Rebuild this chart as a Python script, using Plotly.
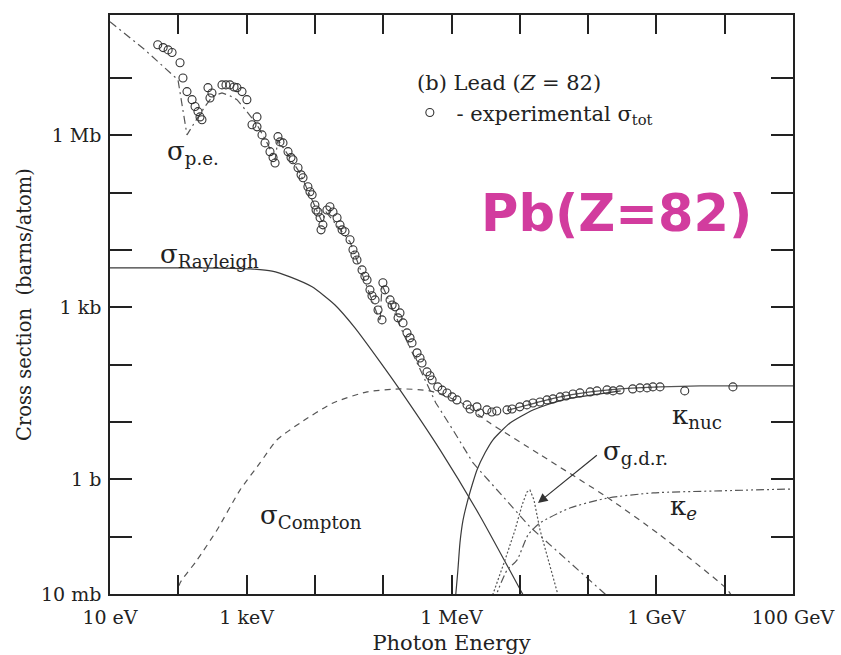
import plotly.graph_objects as go

# ---------------- data (energy in eV, cross section in barns/atom) ----------------
exp_E = [50, 60, 71, 81, 106, 117, 134, 159, 176, 194, 208, 222, 272, 291, 311,
         436, 499, 571, 655, 723, 857, 1.01e3, 1.42e3, 1.2e3, 1.42e3, 1.68e3, 1.86e3,
         2.2e3, 2.44e3, 2.61e3,
         2.88e3, 3.08e3, 3.41e3, 4.04e3, 4.47e3, 4.78e3, 5.66e3, 6.27e3, 6.7e3, 7.9e3,
         8.47e3, 9.1e3, 1.0e4, 1.04e4, 1.11e4, 1.19e4, 1.31e4, 1.23e4,
         1.5e4, 1.66e4, 1.84e4, 2.11e4, 2.33e4, 2.5e4, 2.76e4, 3.27e4, 3.61e4, 3.86e4,
         4.13e4, 4.9e4, 5.4e4, 5.8e4, 6.4e4, 6.85e4, 7.6e4, 8.4e4, 9.6e4,
         9.9e4, 1.06e5, 1.26e5, 1.35e5, 1.49e5, 1.65e5, 1.76e5, 1.95e5, 2.23e5, 2.47e5,
         2.64e5, 3.13e5, 3.46e5, 3.7e5, 4.38e5, 4.84e5, 5.2e5, 6.3e5, 7.3e5, 8.6e5,
         1.02e6, 1.2e6, 1.69e6, 1.87e6, 2.36e6, 2.6e6, 3.3e6, 3.9e6, 4.6e6, 6.5e6,
         7.7e6, 1.0e7, 1.27e7, 1.56e7, 1.98e7, 2.5e7, 3.06e7, 3.9e7, 4.75e7, 6.0e7,
         7.6e7, 1.07e8, 1.35e8, 1.89e8, 2.32e8, 2.93e8, 4.5e8, 5.75e8, 7.3e8, 8.9e8,
         1.13e9, 2.6e9, 1.32e10]
exp_S = [3.8e7, 3.4e7, 3.1e7, 2.8e7, 1.85e7, 1.0e7, 5.8e6, 4.2e6, 3.2e6, 2.6e6, 2.1e6,
         1.87e6, 6.8e6, 4.5e6, 5.5e6,
         7.6e6, 7.6e6, 7.6e6, 7.0e6, 6.8e6, 5.8e6, 4.2e6, 2.1e6, 1.53e6, 1.41e6, 1.02e6,
         7.4e5, 5.2e5, 4.1e5, 3.3e5,
         9.5e5, 7.7e5, 7.4e5, 5.2e5, 4.1e5, 3.75e5, 2.72e5, 2.05e5, 1.82e5, 1.27e5,
         1.04e5, 9.2e4, 6.1e4, 5.0e4, 4.6e4, 3.65e4, 2.75e4, 2.25e4,
         5.0e4, 5.7e4, 4.6e4, 3.65e4, 2.75e4, 2.25e4, 2.08e4, 1.51e4, 1.01e4, 8.2e3,
         6.7e3, 4.5e3, 3.5e3, 3.0e3, 2.02e3, 1.59e3, 1.35e3, 900, 605,
         2.68e3, 2.02e3, 1.35e3, 1.1e3, 1.02e3, 656, 800, 536, 359, 294,
         240, 161, 131, 107, 75, 64, 54, 41, 36, 32,
         27.4, 24.3, 19.9, 16.9, 18.4, 14.4, 16.3, 15.0, 15.6, 16.3,
         16.9, 18.4, 19.9, 21.5, 22.4, 24.3, 25.3, 27.4, 28.5, 30.9,
         32.2, 33.5, 34.9, 36.3, 34.9, 36.3, 37.8, 39.4, 39.4, 41,
         41, 34.9, 41]

pe_E = [10, 32.5, 99, 110, 121, 134, 176, 246, 322, 436, 571, 723, 1.01e3, 1.42e3,
        2.06e3, 2.61e3, 2.88e3, 6.05e3, 1.27e4, 1.46e4, 3.27e4, 9.0e4, 9.6e4, 2.08e5,
        5.9e5, 1.05e6, 2.07e6, 1.41e7, 1.77e8, 2.0e8]
pe_S = [9.6e7, 3.1e7, 9.3e6, 4.2e6, 1.87e6, 1.02e6, 1.73e6, 3.2e6, 4.9e6, 5.5e6, 4.9e6,
        4.2e6, 2.6e6, 1.53e6, 6.9e5, 3.75e5, 8.4e5, 2.2e5, 3.1e4, 4.6e4, 1.39e4, 560,
        2.47e3, 305, 21.5, 7.3, 1.93, 0.148, 0.01, 0.0079]

ray_E = [10, 208, 1.12e3, 2.36e3, 4.32e3, 9.1e3, 1.97e4, 3.86e4, 9.0e4, 1.76e5,
         6.8e5, 2.61e6, 1.08e7, 1.32e7]
ray_S = [4.9e3, 4.9e3, 4.7e3, 4.3e3, 3.4e3, 2.28e3, 1.1e3, 439, 112, 36.3,
         3.26, 0.23, 0.0104, 0.0067]

comp_E = [96, 106, 188, 369, 800, 1.57e3, 2.79e3, 6.05e3, 1.84e4, 5.8e4, 1.76e5,
          4.8e5, 1.33e6, 3.66e6, 1.98e7, 1.89e8, 1.13e9, 1.04e10, 1.25e10]
comp_S = [0.0089, 0.0155, 0.039, 0.131, 0.65, 1.93, 4.9, 9.6, 21.5, 33.5, 37.8,
          34.9, 22.4, 9.6, 2.7, 0.49, 0.107, 0.0127, 0.0095]

knuc_E = [1.1e6, 1.16e6, 1.24e6, 1.33e6, 1.47e6, 1.69e6, 2.0e6, 2.36e6, 3.1e6,
          4.05e6, 7.2e6, 1.56e7, 4.3e7, 1.18e8, 3.0e8]
knuc_S = [0.005, 0.0104, 0.026, 0.078, 0.19, 0.39, 0.79, 1.46, 2.9,
          4.9, 9.6, 16.2, 24.4, 29.7, 35.0]

tot_E = [6.5e6, 1.56e7, 3.9e7, 1.07e8, 2.93e8, 1.13e9, 4.35e9, 1e11]
tot_S = [16.0, 21.0, 27.4, 33.5, 37.8, 41.0, 42.7, 42.7]

gdr_E = [3.8e6, 4.05e6, 6.07e6, 8.5e6, 1.08e7, 1.27e7, 1.41e7, 1.61e7, 1.98e7,
         2.59e7, 3.6e7, 3.9e7]
gdr_S = [0.007, 0.01, 0.039, 0.13, 0.357, 0.60, 0.65, 0.44, 0.13,
         0.039, 0.01, 0.007]

ke_E = [4.4e6, 4.6e6, 6.5e6, 9.1e6, 1.32e7, 1.98e7, 5.4e7, 1.89e8, 8.9e8, 8.5e9, 1e11]
ke_S = [0.007, 0.01, 0.026, 0.039, 0.107, 0.174, 0.316, 0.47, 0.58, 0.63, 0.68]

x_tick_vals = [1e1, 1e3, 1e6, 1e9, 1e11]
x_tick_text = ["10 eV", "1 keV", "1 MeV", "1 GeV", "100 GeV"]
x_minor_vals = [1e2, 1e4, 1e5, 1e7, 1e8, 1e10]
y_tick_vals = [1e-2, 1e0, 1e3, 1e6]
y_tick_text = ["10 mb", "1 b", "1 kb", "1 Mb"]
y_minor_vals = [1e-1, 1e1, 1e2, 1e4, 1e5, 1e7]

# ---------------- styling ----------------
SERIF = "DejaVu Serif"
INK = "#222222"
LINE = "#3a3a3a"

fig = go.Figure()

def curve(E, S, dash, width=1.2, color=LINE, shape="spline"):
    fig.add_trace(go.Scatter(x=E, y=S, mode="lines", showlegend=False,
                             line=dict(color=color, width=width, dash=dash,
                                       shape=shape, smoothing=0.6),
                             hoverinfo="skip"))

curve(ray_E, ray_S, "solid")
curve(comp_E, comp_S, "6px,5px", color="#555555")
curve(pe_E, pe_S, "8px,4px,2px,4px", color="#555555", shape="linear")
curve(gdr_E, gdr_S, "2px,2px", color="#555555", shape="linear")
curve(ke_E, ke_S, "8px,3px,2px,3px,2px,3px", color="#555555")
curve(knuc_E, knuc_S, "solid")
curve(tot_E, tot_S, "solid", color="#555555")

fig.add_trace(go.Scatter(
    x=exp_E, y=exp_S, mode="markers",
    name="\u00a0- experimental σ<sub>tot</sub>",
    marker=dict(symbol="circle-open", size=8, color="#333333", line=dict(width=1.1)),
    showlegend=True, hoverinfo="skip"))

def lab(text, lx, ly, size=26):
    fig.add_annotation(x=lx, y=ly, xref="x", yref="y", text=text, showarrow=False,
                       font=dict(family=SERIF, size=size, color=INK),
                       xanchor="center", yanchor="middle")

lab("σ<sub>p.e.</sub>", 2.215, 5.70)
lab("σ<sub>Rayleigh</sub>", 2.464, 3.90)
lab("σ<sub>Compton</sub>", 3.943, -0.65)
lab("κ<sub>nuc</sub>", 9.594, 1.10)
lab("σ<sub>g.d.r.</sub>", 8.70, 0.47)
lab("κ<sub><i>e</i></sub>", 9.404, -0.49)

# arrow to g.d.r. peak
fig.add_annotation(x=7.266, y=-0.412, xref="x", yref="y",
                   ax=8.15, ay=0.44, axref="x", ayref="y",
                   text="", showarrow=True, arrowhead=2, arrowsize=1.6,
                   arrowwidth=1.2, arrowcolor="#333333")

fig.add_annotation(x=0.4466, y=0.8826, xref="paper", yref="paper",
                   text="(b) Lead (<i>Z</i>\u00a0=\u00a082)", showarrow=False,
                   xanchor="left", yanchor="middle",
                   font=dict(family=SERIF, size=21, color=INK))

fig.add_annotation(x=0.741, y=0.658, xref="paper", yref="paper",
                   text="<b>Pb(Z=82)</b>", showarrow=False,
                   xanchor="center", yanchor="middle",
                   font=dict(family="DejaVu Sans", size=51, color="#D23C9E"))

axis_common = dict(type="log", showline=True, linecolor="#222222", linewidth=1.6,
                   mirror="ticks", ticks="inside", tickwidth=1.6, tickcolor="#222222",
                   showgrid=False, zeroline=False, automargin=False,
                   tickfont=dict(family=SERIF, size=19, color=INK))

fig.update_xaxes(**axis_common, range=[1, 11], tickmode="array",
                 tickvals=x_tick_vals, ticktext=x_tick_text, ticklen=19,
                 ticklabelstandoff=5,
                 minor=dict(tickvals=x_minor_vals, ticks="inside", ticklen=19,
                            tickwidth=1.6, tickcolor="#222222", showgrid=False),
                 title=dict(text="Photon Energy", font=dict(family=SERIF, size=21, color=INK),
                            standoff=9))
fig.update_yaxes(**axis_common, range=[-2, 8.10], tickmode="array",
                 tickvals=y_tick_vals, ticktext=y_tick_text, ticklen=22,
                 ticklabelstandoff=3,
                 minor=dict(tickvals=y_minor_vals, ticks="inside", ticklen=22,
                            tickwidth=1.6, tickcolor="#222222", showgrid=False),
                 title=dict(text="Cross section\u00a0\u00a0(barns/atom)",
                            font=dict(family=SERIF, size=19.5, color=INK), standoff=4))

fig.update_layout(
    width=841, height=655,
    margin=dict(l=110, r=48, t=15, b=61, autoexpand=False),
    paper_bgcolor="white", plot_bgcolor="white",
    showlegend=True,
    legend=dict(x=0.439, y=0.831, xanchor="left", yanchor="middle",
                bgcolor="rgba(0,0,0,0)", borderwidth=0,
                font=dict(family=SERIF, size=21, color=INK)),
)

fig.write_html("out.html")
